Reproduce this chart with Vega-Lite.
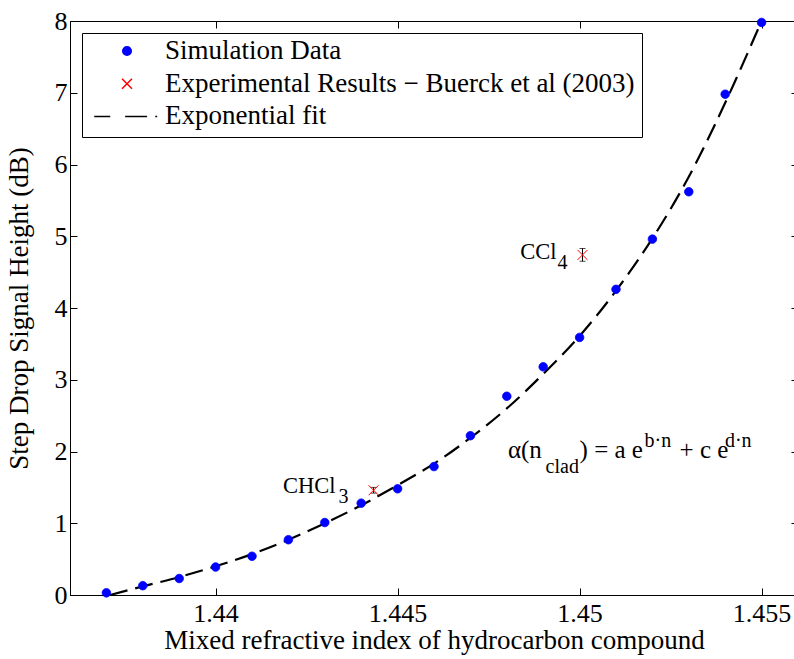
{
  "$schema": "https://vega.github.io/schema/vega-lite/v6.json",
  "width": 728,
  "height": 574,
  "autosize": "none",
  "padding": {"left": 70, "top": 21, "right": 0, "bottom": 64},
  "background": "white",
  "config": {
    "font": "Liberation Serif",
    "view": {"stroke": "black", "strokeWidth": 1},
    "axis": {
      "grid": false,
      "domainColor": "black",
      "tickColor": "black",
      "labelColor": "black",
      "titleColor": "black",
      "labelFont": "Liberation Serif",
      "titleFont": "Liberation Serif",
      "labelFontSize": 26,
      "titleFontSize": 27,
      "titleFontWeight": "normal",
      "tickSize": -7,
      "domainWidth": 1,
      "tickWidth": 1
    },
    "text": {"font": "Liberation Serif"}
  },
  "datasets": {
    "sim": [
      {"x": 1.437, "y": 0.03, "series": "Simulation Data"},
      {"x": 1.438, "y": 0.13, "series": "Simulation Data"},
      {"x": 1.439, "y": 0.23, "series": "Simulation Data"},
      {"x": 1.440, "y": 0.39, "series": "Simulation Data"},
      {"x": 1.441, "y": 0.54, "series": "Simulation Data"},
      {"x": 1.442, "y": 0.77, "series": "Simulation Data"},
      {"x": 1.443, "y": 1.01, "series": "Simulation Data"},
      {"x": 1.444, "y": 1.28, "series": "Simulation Data"},
      {"x": 1.445, "y": 1.48, "series": "Simulation Data"},
      {"x": 1.446, "y": 1.79, "series": "Simulation Data"},
      {"x": 1.447, "y": 2.22, "series": "Simulation Data"},
      {"x": 1.448, "y": 2.77, "series": "Simulation Data"},
      {"x": 1.449, "y": 3.18, "series": "Simulation Data"},
      {"x": 1.450, "y": 3.59, "series": "Simulation Data"},
      {"x": 1.451, "y": 4.26, "series": "Simulation Data"},
      {"x": 1.452, "y": 4.96, "series": "Simulation Data"},
      {"x": 1.453, "y": 5.62, "series": "Simulation Data"},
      {"x": 1.454, "y": 6.98, "series": "Simulation Data"},
      {"x": 1.455, "y": 7.98, "series": "Simulation Data"}
    ],
    "exp": [
      {"x": 1.44434, "y": 1.46, "lo": 1.42, "hi": 1.50},
      {"x": 1.45008, "y": 4.74, "lo": 4.65, "hi": 4.83}
    ],
    "fit": [
      {"x": 1.4371, "y": 0.0},
      {"x": 1.438, "y": 0.12},
      {"x": 1.439, "y": 0.25},
      {"x": 1.440, "y": 0.40},
      {"x": 1.441, "y": 0.57},
      {"x": 1.442, "y": 0.77},
      {"x": 1.443, "y": 1.00},
      {"x": 1.444, "y": 1.25},
      {"x": 1.445, "y": 1.53},
      {"x": 1.446, "y": 1.83},
      {"x": 1.447, "y": 2.19},
      {"x": 1.448, "y": 2.60},
      {"x": 1.449, "y": 3.08},
      {"x": 1.450, "y": 3.61},
      {"x": 1.451, "y": 4.24},
      {"x": 1.452, "y": 4.97},
      {"x": 1.453, "y": 5.83},
      {"x": 1.454, "y": 6.86},
      {"x": 1.455, "y": 8.0}
    ],
    "notesChem": [
      {"x": 1.441849, "y": 1.4216, "text": "CHCl"},
      {"x": 1.448371, "y": 4.6787, "text": "CCl"}
    ],
    "notesEq": [
      {"x": 1.44803, "y": 1.9052, "text": "α(n"},
      {"x": 1.45, "y": 1.9052, "text": ") = a e"},
      {"x": 1.452747, "y": 1.9052, "text": "+ c e"}
    ],
    "notesSmall": [
      {"x": 1.443378, "y": 1.2822, "text": "3"},
      {"x": 1.449394, "y": 4.5394, "text": "4"},
      {"x": 1.449066, "y": 1.7003, "text": "clad"},
      {"x": 1.451786, "y": 2.0669, "text": "b·n"},
      {"x": 1.453992, "y": 2.0669, "text": "d·n"}
    ]
  },
  "layer": [
    {
      "data": {"name": "fit"},
      "mark": {"type": "line", "strokeDash": [18, 8], "strokeWidth": 2.2, "interpolate": "monotone", "clip": true, "color": "black"},
      "encoding": {
        "x": {"field": "x", "type": "quantitative", "scale": {"domain": [1.436, 1.456], "nice": false, "zero": false},
              "axis": {"orient": "top", "labels": false, "title": null, "values": [1.44, 1.445, 1.45, 1.455]}},
        "y": {"field": "y", "type": "quantitative", "scale": {"domain": [0, 8], "nice": false, "zero": false},
              "axis": {"orient": "right", "labels": false, "title": null, "values": [0, 1, 2, 3, 4, 5, 6, 7, 8]}}
      }
    },
    {
      "data": {"name": "exp"},
      "mark": {"type": "errorbar", "ticks": {"size": 6, "color": "black"}, "color": "black", "thickness": 1},
      "encoding": {
        "x": {"field": "x", "type": "quantitative", "axis": null},
        "y": {"field": "lo", "type": "quantitative", "axis": null},
        "y2": {"field": "hi"}
      }
    },
    {
      "data": {"name": "exp"},
      "mark": {"type": "point", "filled": false, "opacity": 1, "size": 5550, "strokeWidth": 1, "color": "#ff0000", "shape": "M-0.134,-0.134L0.134,0.134M-0.134,0.134L0.134,-0.134"},
      "encoding": {
        "x": {"field": "x", "type": "quantitative", "axis": null},
        "y": {"field": "y", "type": "quantitative", "axis": null}
      }
    },
    {
      "data": {"name": "sim"},
      "mark": {"type": "point", "filled": true, "opacity": 1, "size": 5550, "color": "#0000ff", "strokeWidth": 0.8},
      "encoding": {
        "x": {"field": "x", "type": "quantitative", "scale": {"domain": [1.436, 1.456], "nice": false, "zero": false},
              "axis": {"orient": "bottom", "title": "Mixed refractive index of hydrocarbon compound", "values": [1.44, 1.445, 1.45, 1.455], "format": "~g", "labelPadding": 12, "titlePadding": 1}},
        "y": {"field": "y", "type": "quantitative", "scale": {"domain": [0, 8], "nice": false, "zero": false},
              "axis": {"orient": "left", "title": "Step Drop Signal Height (dB)", "values": [0, 1, 2, 3, 4, 5, 6, 7, 8], "labelPadding": 10, "titlePadding": 21}},
        "shape": {"field": "series", "type": "nominal",
                  "scale": {"domain": ["Simulation Data", "Experimental Results − Buerck et al (2003)", "Exponential fit"],
                            "range": ["M-0.115,0A0.115,0.115 0 1,0 0.115,0A0.115,0.115 0 1,0 -0.115,0Z", "M-0.134,-0.134L0.134,0.134M-0.134,0.134L0.134,-0.134", "M-0.88,0L-0.45,0M-0.05,0L0.54,0M0.76,0L0.81,0"]},
                  "legend": {
                    "title": null, "orient": "none", "legendX": 12, "legendY": 12,
                    "padding": 7, "strokeColor": "black", "fillColor": "white",
                    "symbolSize": 5550, "symbolStrokeWidth": 1.5, "clipHeight": 22, "rowPadding": 5.7,
                    "labelOffset": 0, "labelFont": "Liberation Serif", "labelFontSize": 27, "labelColor": "black", "labelLimit": 1000
                  }},
        "stroke": {"field": "series", "type": "nominal",
                   "scale": {"domain": ["Simulation Data", "Experimental Results − Buerck et al (2003)", "Exponential fit"], "range": ["#0000ff", "#ff0000", "#000000"]},
                   "legend": {
                    "title": null, "orient": "none", "legendX": 12, "legendY": 12,
                    "padding": 7, "strokeColor": "black", "fillColor": "white",
                    "symbolSize": 5550, "symbolStrokeWidth": 1.5, "clipHeight": 22, "rowPadding": 5.7,
                    "labelOffset": 0, "labelFont": "Liberation Serif", "labelFontSize": 27, "labelColor": "black", "labelLimit": 1000
                  }}
      }
    },
    {
      "data": {"name": "notesChem"},
      "mark": {"type": "text", "align": "left", "baseline": "alphabetic", "color": "black", "font": "Liberation Serif", "fontSize": 22.5},
      "encoding": {
        "x": {"field": "x", "type": "quantitative", "axis": null},
        "y": {"field": "y", "type": "quantitative", "axis": null},
        "text": {"field": "text"}
      }
    },
    {
      "data": {"name": "notesEq"},
      "mark": {"type": "text", "align": "left", "baseline": "alphabetic", "color": "black", "font": "Liberation Serif", "fontSize": 25},
      "encoding": {
        "x": {"field": "x", "type": "quantitative", "axis": null},
        "y": {"field": "y", "type": "quantitative", "axis": null},
        "text": {"field": "text"}
      }
    },
    {
      "data": {"name": "notesSmall"},
      "mark": {"type": "text", "align": "left", "baseline": "alphabetic", "color": "black", "font": "Liberation Serif", "fontSize": 20},
      "encoding": {
        "x": {"field": "x", "type": "quantitative", "axis": null},
        "y": {"field": "y", "type": "quantitative", "axis": null},
        "text": {"field": "text"}
      }
    }
  ],
  "resolve": {"axis": {"x": "independent", "y": "independent"}}
}
